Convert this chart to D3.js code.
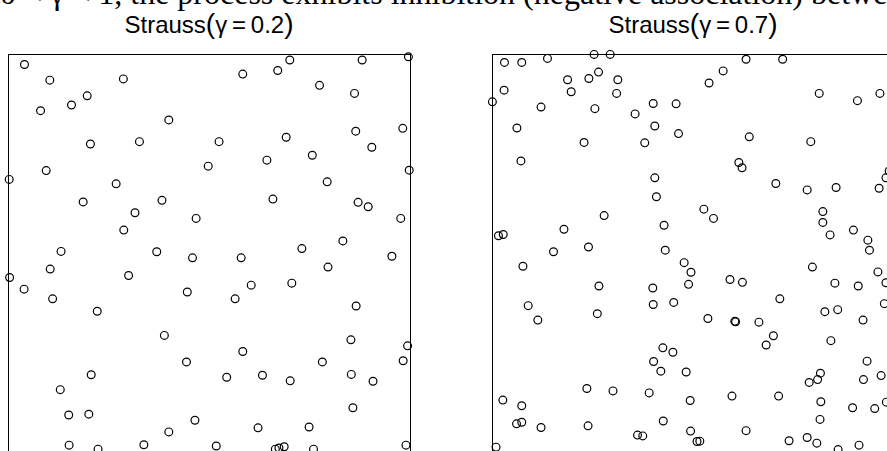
<!DOCTYPE html>
<html lang="en">
    <head>
        <meta charset="utf-8">
        <title>Strauss processes</title>
        <script type="text/javascript" src="https://cdn.jsdelivr.net/npm/d3@7/dist/d3.min.js"></script>
        <style type="text/css">
        body {
            margin: 0;
            background: white;
        }
        .frame {
            fill: none;
            stroke: black;
            stroke-width: 1.2;
            shape-rendering: crispEdges;
        }
        .pt {
            fill: none;
            stroke: black;
            stroke-width: 1.2;
        }
        .title {
            font-family: "Liberation Sans", Arial, sans-serif;
            font-size: 24px;
            text-anchor: middle;
        }
        .paren {
            font-size: 28px;
        }
        .caption {
            font-family: "Liberation Serif", "DejaVu Serif", serif;
            font-size: 32px;
        }
        </style>
    </head>
    <body>
        <script>
                var w = 887;
                var h = 451;
                var side = 402;   // unit square drawn as a 402px box
                var top0 = 54;
                var lefts = [8, 492];

                var gammas = ["0.2", "0.7"];
                var caption = "0 < \u03b3 < 1, the process exhibits inhibition (negative association) between points";

                // points in the unit window, y up
                var strauss02 = [
                  [.041,.974],[.104,.935],[.287,.938],[.197,.896],[.158,.873],[.081,.859],[.400,.836],
                  [.205,.776],[.327,.782],[.498,.721],[.095,.710],[.003,.688],[.269,.677],[.187,.632],
                  [.383,.636],[.316,.605],[.468,.591],[.288,.562],[.132,.509],[.370,.508],[.584,.950],
                  [.671,.959],[.701,.985],[.881,.985],[.996,.993],[.775,.922],[.862,.902],[.525,.782],
                  [.692,.793],[.865,.808],[.982,.815],[.905,.768],[.644,.736],[.757,.748],[.998,.711],
                  [.794,.682],[.659,.639],[.871,.631],[.896,.620],[.977,.591],[.833,.535],[.731,.516],
                  [.459,.493],[.105,.465],[.004,.444],[.300,.449],[.040,.415],[.111,.391],[.446,.408],
                  [.222,.360],[.389,.300],[.444,.234],[.207,.202],[.130,.165],[.151,.102],[.201,.104],
                  [.400,.060],[.465,.089],[.152,.027],[.224,.017],[.338,.028],[.580,.493],[.955,.497],
                  [.796,.470],[.605,.425],[.706,.430],[.565,.391],[.866,.373],[.853,.289],[.994,.274],
                  [.983,.237],[.584,.260],[.782,.234],[.544,.196],[.633,.201],[.702,.187],[.854,.203],
                  [.908,.186],[.858,.120],[.622,.070],[.749,.072],[.518,.025],[.665,.017],[.674,.020],
                  [.687,.023],[.760,.017],[.990,.027]
                ];

                var strauss07 = [
                  [.031,.979],[.074,.979],[.138,.989],[.254,.999],[.294,.999],[.188,.936],[.241,.939],
                  [.265,.955],[.313,.936],[.030,.910],[.197,.906],[.310,.902],[.001,.881],[.122,.868],
                  [.256,.864],[.401,.877],[.458,.876],[.356,.851],[.062,.816],[.405,.821],[.464,.802],
                  [.229,.780],[.380,.779],[.072,.734],[.405,.692],[.409,.645],[.279,.598],[.428,.574],
                  [.179,.564],[.016,.548],[.028,.551],[.153,.508],[.240,.520],[.431,.512],[.632,.987],
                  [.723,.987],[.575,.958],[.540,.928],[.814,.902],[.909,.884],[.965,.902],[.640,.794],
                  [.793,.782],[.614,.730],[.622,.717],[.706,.678],[.784,.662],[.856,.668],[.963,.666],
                  [.980,.692],[.988,.709],[.527,.614],[.551,.591],[.823,.608],[.823,.581],[.841,.550],
                  [.899,.562],[.935,.537],[.939,.512],[.077,.472],[.478,.481],[.495,.457],[.266,.423],
                  [.400,.418],[.489,.427],[.090,.374],[.114,.338],[.262,.354],[.401,.377],[.452,.382],
                  [.425,.269],[.450,.258],[.402,.235],[.420,.211],[.483,.209],[.236,.168],[.301,.162],
                  [.391,.157],[.493,.138],[.027,.139],[.074,.125],[.061,.080],[.074,.084],[.122,.071],
                  [.239,.075],[.426,.087],[.362,.052],[.375,.050],[.494,.062],[.010,.022],[.797,.470],
                  [.960,.458],[.980,.431],[.592,.439],[.623,.432],[.853,.430],[.911,.423],[.716,.391],
                  [.976,.379],[.828,.359],[.860,.364],[.923,.338],[.537,.342],[.604,.335],[.606,.334],
                  [.664,.333],[.700,.299],[.682,.276],[.843,.287],[.933,.236],[.789,.183],[.810,.190],
                  [.817,.206],[.924,.190],[.968,.200],[.597,.149],[.713,.149],[.818,.135],[.897,.120],
                  [.952,.118],[.981,.134],[.816,.091],[.632,.063],[.510,.036],[.517,.037],[.739,.038],
                  [.784,.046],[.808,.032],[.861,.016],[.913,.027]
                ];

                var panels = [strauss02, strauss07];

                var xScale = d3.scaleLinear().domain([0, 1]).range([0, side]);
                var yScale = d3.scaleLinear().domain([0, 1]).range([side, 0]);

                var svg = d3.select("body")
                  .append("svg")
                  .attr("width", w)
                  .attr("height", h);

                // cut-off line of the surrounding text (only its lower edge shows)
                svg.append("text")
                  .attr("class", "caption")
                  .attr("x", 0)
                  .attr("y", 4)
                  .text(caption);

                panels.forEach(function (data, i) {
                  var g = svg.append("g")
                    .attr("transform", "translate(" + lefts[i] + "," + top0 + ")");

                  var t = g.append("text")
                    .attr("class", "title")
                    .attr("x", side / 2)
                    .attr("y", -21);
                  t.append("tspan").text("Strauss");
                  t.append("tspan").attr("class", "paren").text("(");
                  t.append("tspan").text("\u03b3\u2009=\u2009" + gammas[i]);
                  t.append("tspan").attr("class", "paren").text(")");

                  g.append("rect")
                    .attr("class", "frame")
                    .attr("x", 0.5)
                    .attr("y", 0.5)
                    .attr("width", side)
                    .attr("height", side);

                  g.selectAll("circle")
                    .data(data)
                    .enter()
                    .append("circle")
                    .attr("class", "pt")
                    .attr("cx", function (d) { return xScale(d[0]); })
                    .attr("cy", function (d) { return yScale(d[1]); })
                    .attr("r", 3.9);
                });

            </script>
    </body>
</html>
